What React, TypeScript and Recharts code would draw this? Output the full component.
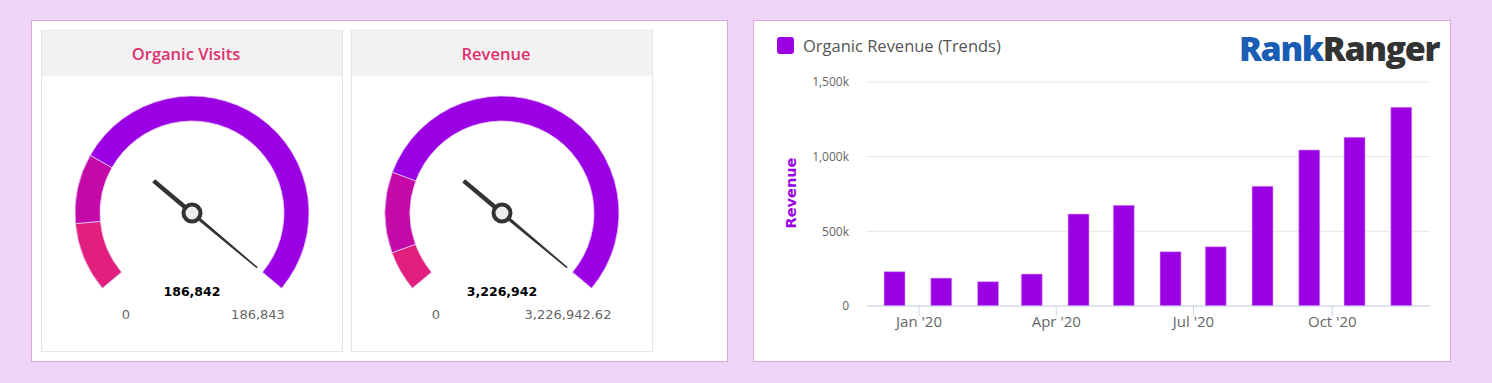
import React from 'react';
import { PieChart, Pie, Cell, BarChart, Bar, XAxis, YAxis, CartesianGrid, Customized } from 'recharts';

// gauges
const gaugeTitles = ['Organic Visits', 'Revenue'];
const gaugeValues = [186842, 3226942];
const gaugeMax = [186843, 3226942.62];
const gaugeMaxLabels = ['186,843', '3,226,942.62'];
// upper stop of the pink band, then of the magenta band
const gaugeBandStops = [
  [25000, 50000],
  [250000, 750000],
];
const bandColors = ['#e21f7c', '#c508a8', '#9b00e5'];

// organic revenue by month
const revenueMonths = [
  '2019-12-16', '2020-01-16', '2020-02-16', '2020-03-16', '2020-04-16', '2020-05-16',
  '2020-06-16', '2020-07-16', '2020-08-16', '2020-09-16', '2020-10-16', '2020-11-16',
];
const revenueValues = [230000, 187000, 163000, 214000, 616000, 674000, 364000, 397000, 802000, 1045000, 1130000, 1331000];
const xTickDates = ['2020-01-01', '2020-04-01', '2020-07-01', '2020-10-01'];
const xTickLabels = ["Jan '20", "Apr '20", "Jul '20", "Oct '20"];
const yTicks = [0, 500000, 1000000, 1500000];
const yTickLabels = ['0', '500k', '1,000k', '1,500k'];

const PURPLE = '#9b00e5';
const START = 220;
const END = -40;

const ts = (d: string) => new Date(d + 'T00:00:00Z').getTime();
const revenueData = revenueMonths.map((m, i) => ({ t: ts(m), v: revenueValues[i] }));
const xTicks = xTickDates.map(ts);
const xDomain = [Date.UTC(2019, 10, 27, 12), Date.UTC(2020, 11, 4, 19)];

function Needle({ cx, cy, angle, value, max }: any) {
  const rad = (angle * Math.PI) / 180;
  const ux = Math.cos(rad);
  const uy = -Math.sin(rad);
  const px = -uy;
  const py = ux;
  const tip = [cx + ux * 85, cy + uy * 85];
  const back = [cx - ux * 50, cy - uy * 50];
  const pts = [
    [cx + px * 1.7, cy + py * 1.7],
    [tip[0] + px * 0.8, tip[1] + py * 0.8],
    [tip[0] - px * 0.8, tip[1] - py * 0.8],
    [cx - px * 1.7, cy - py * 1.7],
  ]
    .map((p) => p.join(','))
    .join(' ');
  return (
    <g>
      <line x1={cx} y1={cy} x2={back[0]} y2={back[1]} stroke="#333" strokeWidth={4.5} />
      <polygon points={pts} fill="#333" />
      <circle cx={cx} cy={cy} r={8.5} fill="#eeeeee" stroke="#333" strokeWidth={4} />
      <text x={cx} y={cy + 83} textAnchor="middle" fontFamily="DejaVu Sans" fontWeight="bold" fontSize={12.5} fill="#000">
        {value.toLocaleString('en-US', { maximumFractionDigits: 0 })}
      </text>
      <text x={cx - 66} y={cy + 106} textAnchor="middle" fontFamily="DejaVu Sans" fontSize={13} fill="#666">
        0
      </text>
      <text x={cx + 66} y={cy + 106} textAnchor="middle" fontFamily="DejaVu Sans" fontSize={13} fill="#666">
        {max}
      </text>
    </g>
  );
}

function Gauge({ idx, left }: { idx: number; left: number }) {
  const max = gaugeMax[idx];
  const [s1, s2] = gaugeBandStops[idx];
  const bands = [
    { name: 'low', value: s1 },
    { name: 'mid', value: s2 - s1 },
    { name: 'high', value: max - s2 },
  ];
  const value = gaugeValues[idx];
  const angle = START - ((START - END) * value) / max;
  const cx = 150;
  const cy = 137;
  return (
    <div
      style={{
        position: 'absolute',
        left,
        top: 30,
        width: 302,
        height: 322,
        boxSizing: 'border-box',
        border: '1px solid #e6e6e6',
        background: '#fff',
      }}
    >
      <div
        style={{
          height: 45,
          background: '#f2f2f2',
          color: '#e0306c',
          fontFamily: 'Open Sans',
          fontSize: 16.5,
          fontWeight: 600,
          lineHeight: '45px',
          textAlign: 'center',
          paddingRight: 12,
        }}
      >
        {gaugeTitles[idx]}
      </div>
      <PieChart width={300} height={275} margin={{ top: 0, right: 0, bottom: 0, left: 0 }}>
        <Pie
          data={bands}
          dataKey="value"
          cx={cx}
          cy={cy}
          startAngle={START}
          endAngle={END}
          innerRadius={92}
          outerRadius={117}
          stroke="#e3c8f6"
          strokeWidth={0.8}
          isAnimationActive={false}
        >
          {bands.map((b, i) => (
            <Cell key={b.name} fill={bandColors[i]} />
          ))}
        </Pie>
        <Customized component={<Needle cx={cx} cy={cy} angle={angle} value={value} max={gaugeMaxLabels[idx]} />} />
      </PieChart>
    </div>
  );
}

export default function App() {
  return (
    <div style={{ position: 'absolute', left: 0, top: 0, width: 1492, height: 383, background: '#eed4f6', overflow: 'hidden' }}>
      <div
        style={{
          position: 'absolute',
          left: 31,
          top: 20,
          width: 697,
          height: 342,
          boxSizing: 'border-box',
          background: '#fff',
          border: '1px solid #dcaad8',
        }}
      />
      <Gauge idx={0} left={41} />
      <Gauge idx={1} left={351} />

      <div
        style={{
          position: 'absolute',
          left: 753,
          top: 20,
          width: 698,
          height: 342,
          boxSizing: 'border-box',
          background: '#fff',
          border: '1px solid #dcaad8',
        }}
      />
      <div style={{ position: 'absolute', left: 777, top: 37, width: 17, height: 17, borderRadius: 3, background: PURPLE }} />
      <div
        style={{
          position: 'absolute',
          left: 803,
          top: 34,
          fontFamily: 'Open Sans',
          fontSize: 16.5,
          color: '#555',
          lineHeight: '24px',
          whiteSpace: 'nowrap',
        }}
      >
        Organic Revenue (Trends)
      </div>
      <div
        style={{
          position: 'absolute',
          left: 1239,
          top: 31,
          fontFamily: 'Open Sans',
          fontWeight: 800,
          fontSize: 34,
          lineHeight: '34px',
          letterSpacing: -1.4,
          whiteSpace: 'nowrap',
        }}
      >
        <span style={{ color: '#1a5db5' }}>Rank</span>
        <span style={{ color: '#333' }}>Ranger</span>
      </div>
      <div
        style={{
          position: 'absolute',
          left: 791,
          top: 193,
          transform: 'translate(-50%, -50%) rotate(-90deg)',
          fontFamily: 'DejaVu Sans',
          fontWeight: 'bold',
          fontSize: 14.5,
          color: PURPLE,
          whiteSpace: 'nowrap',
        }}
      >
        Revenue
      </div>
      <div style={{ position: 'absolute', left: 754, top: 70 }}>
        <BarChart width={697} height={280} data={revenueData} margin={{ top: 12, right: 21, left: 53, bottom: 14 }}>
          <CartesianGrid vertical={false} stroke="#e6e6e6" />
          <XAxis
            dataKey="t"
            type="number"
            domain={xDomain}
            allowDataOverflow
            ticks={xTicks}
            tickFormatter={(v: number) => xTickLabels[xTicks.indexOf(v)]}
            height={30}
            axisLine={{ stroke: '#ccd6eb' }}
            tickLine={{ stroke: '#ccd6eb' }}
            tickSize={10}
            tickMargin={0}
            tick={{ fill: '#666', fontSize: 15, fontFamily: 'Open Sans' }}
          />
          <YAxis
            width={60}
            domain={[0, 1500000]}
            ticks={yTicks}
            tickFormatter={(v: number) => yTickLabels[yTicks.indexOf(v)]}
            axisLine={false}
            tickLine={false}
            tickSize={0}
            tickMargin={18}
            tick={{ fill: '#666', fontSize: 12, fontFamily: 'Open Sans' }}
          />
          <Bar dataKey="v" fill={PURPLE} stroke="#d9a6f5" strokeWidth={0.6} barSize={21} isAnimationActive={false} />
        </BarChart>
      </div>
    </div>
  );
}
